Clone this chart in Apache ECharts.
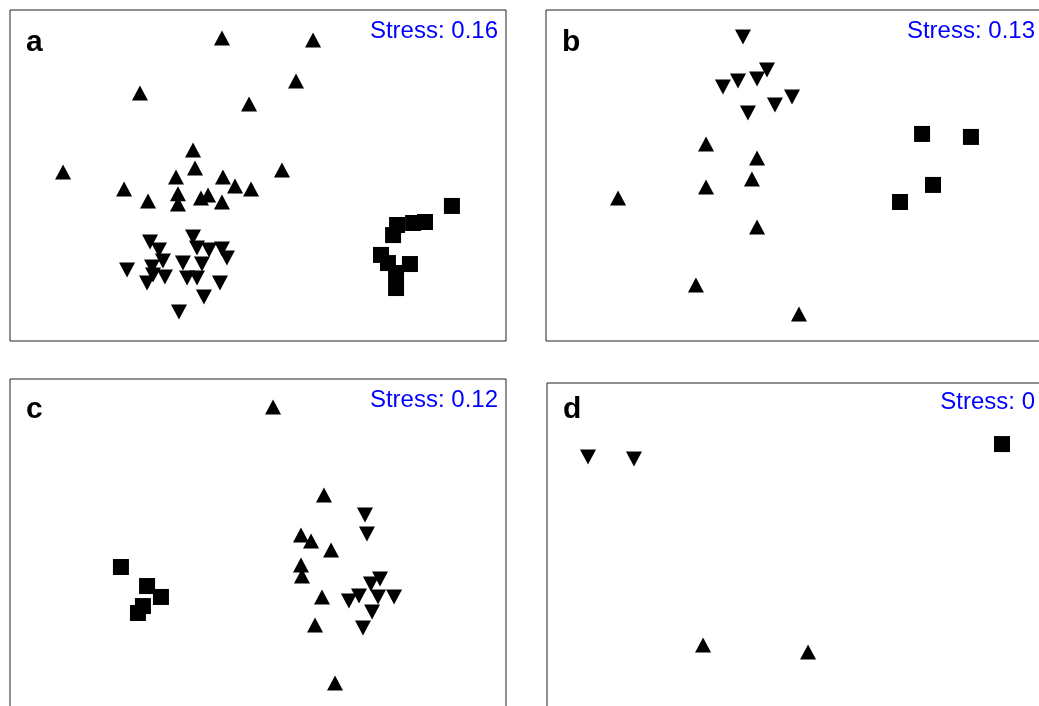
<!DOCTYPE html>
<html>
<head>
<meta charset="utf-8">
<title>NMDS ordinations</title>
<script src="https://cdn.jsdelivr.net/npm/echarts@6/dist/echarts.min.js"></script>
<style>
  html, body { margin: 0; padding: 0; background: #ffffff; overflow: hidden; }
  #main { width: 1060px; height: 730px; }
</style>
</head>
<body>
<div id="main"></div>
<script>
// NMDS site scores [NMDS1, NMDS2] per group and panel
const panelLetters = ['a', 'b', 'c', 'd'];
const stressLabels = ['Stress: 0.16', 'Stress: 0.13', 'Stress: 0.12', 'Stress: 0'];

// panel a
const aUp = [
  [-0.218, 0.831], [0.333, 0.819], [-0.714, 0.498], [-0.054, 0.432], [0.230, 0.571],
  [-0.393, 0.154], [-0.381, 0.045], [-1.179, 0.021], [-0.810, -0.082], [-0.665, -0.154],
  [-0.496, -0.009], [-0.484, -0.110], [-0.484, -0.172], [-0.345, -0.136], [-0.302, -0.118],
  [-0.218, -0.160], [-0.212, -0.009], [-0.139, -0.063], [-0.042, -0.082], [0.145, 0.033]
];
const aDown = [
  [-0.653, -0.402], [-0.599, -0.450], [-0.393, -0.372], [-0.369, -0.438], [-0.296, -0.450],
  [-0.218, -0.444], [-0.188, -0.498], [-0.575, -0.517], [-0.641, -0.553], [-0.454, -0.529],
  [-0.339, -0.535], [-0.792, -0.571], [-0.671, -0.650], [-0.635, -0.601], [-0.563, -0.613],
  [-0.429, -0.619], [-0.369, -0.619], [-0.230, -0.650], [-0.327, -0.734], [-0.478, -0.825]
];
const aSquare = [
  [1.173, -0.184], [1.010, -0.281], [0.938, -0.287], [0.841, -0.299], [0.817, -0.360],
  [0.744, -0.480], [0.786, -0.529], [0.919, -0.535], [0.835, -0.589], [0.835, -0.680]
];

// panel b
const bUp = [
  [-0.534, 0.190], [-0.226, 0.106], [-1.065, -0.136], [-0.534, -0.069],
  [-0.257, -0.021], [-0.226, -0.311], [-0.595, -0.662], [0.027, -0.837]
];
const bDown = [
  [-0.311, 0.837], [-0.166, 0.637], [-0.226, 0.583], [-0.341, 0.571],
  [-0.432, 0.535], [-0.118, 0.426], [-0.281, 0.378], [-0.015, 0.474]
];
const bSquare = [[0.770, 0.251], [1.065, 0.233], [0.836, -0.057], [0.637, -0.160]];

// panel c
const cUp = [
  [0.091, 0.831], [0.399, 0.299], [0.260, 0.057], [0.321, 0.021], [0.442, -0.033],
  [0.260, -0.124], [0.266, -0.190], [0.387, -0.317], [0.345, -0.486], [0.466, -0.837]
];
const cDown = [
  [0.647, 0.178], [0.659, 0.063], [0.738, -0.208], [0.683, -0.239], [0.611, -0.311],
  [0.550, -0.341], [0.726, -0.317], [0.823, -0.317], [0.690, -0.408], [0.635, -0.505]
];
const cSquare = [[-0.829, -0.136], [-0.671, -0.251], [-0.587, -0.317], [-0.696, -0.372], [-0.726, -0.414]];

// panel d
const dUp = [[-0.556, -0.583], [0.079, -0.625]];
const dDown = [[-1.252, 0.553], [-0.974, 0.541]];
const dSquare = [[1.252, 0.631]];

const groups = [
  [aUp, aDown, aSquare],
  [bUp, bDown, bSquare],
  [cUp, cDown, cSquare],
  [dUp, dDown, dSquare]
];

// panel frames (pixels)
const frames = [
  { left: 10, top: 10, width: 496, height: 331 },
  { left: 546, top: 10, width: 497, height: 331 },
  { left: 10, top: 379, width: 496, height: 331 },
  { left: 547, top: 383, width: 496, height: 331 }
];

const FONT = '"Liberation Sans", Arial, Helvetica, sans-serif';

const grid = frames.map(f => ({
  left: f.left, top: f.top, width: f.width, height: f.height,
  show: true, borderColor: '#222', borderWidth: 1, backgroundColor: 'transparent',
  containLabel: false
}));

const hiddenAxis = {
  type: 'value', show: true,
  axisLine: { show: false }, axisTick: { show: false },
  axisLabel: { show: false }, splitLine: { show: false }
};
const xAxis = frames.map((f, i) => Object.assign({}, hiddenAxis, { gridIndex: i, min: -1.5, max: 1.5 }));
const yAxis = frames.map((f, i) => Object.assign({}, hiddenAxis, { gridIndex: i, min: -1, max: 1 }));

const symbolStyles = [
  { name: 'up', symbol: 'triangle', symbolSize: [16, 15], symbolRotate: 0 },
  { name: 'down', symbol: 'triangle', symbolSize: [16, 15], symbolRotate: 180 },
  { name: 'square', symbol: 'rect', symbolSize: [16, 16], symbolRotate: 0 }
];

const series = [];
groups.forEach((g, i) => {
  g.forEach((pts, j) => {
    const s = symbolStyles[j];
    series.push({
      type: 'scatter',
      name: panelLetters[i] + '-' + s.name,
      xAxisIndex: i, yAxisIndex: i,
      data: pts,
      symbol: s.symbol,
      symbolSize: s.symbolSize,
      symbolRotate: s.symbolRotate,
      itemStyle: { color: '#000000', opacity: 1 },
      emphasis: { disabled: true },
      silent: true
    });
  });
});

// stress text vertical centres and letter baselines differ slightly per panel
const stressMid = [31.5, 31.5, 400.5, 402.5];
const letterMid = [42.5, 42.5, 409.5, 409.5];

const graphic = [];
frames.forEach((f, i) => {
  graphic.push({
    type: 'text', x: f.left + 16, y: letterMid[i], silent: true,
    style: { text: panelLetters[i], font: 'bold 30px ' + FONT, fill: '#000', align: 'left', verticalAlign: 'middle' }
  });
  graphic.push({
    type: 'text', x: f.left + f.width - 8, y: stressMid[i], silent: true,
    style: { text: stressLabels[i], font: '24px ' + FONT, fill: '#0000ff', align: 'right', verticalAlign: 'middle' }
  });
});

const chart = echarts.init(document.getElementById('main'), null, { renderer: 'canvas' });
chart.setOption({
  animation: false,
  backgroundColor: '#ffffff',
  grid: grid,
  xAxis: xAxis,
  yAxis: yAxis,
  series: series,
  graphic: graphic
});
</script>
</body>
</html>
